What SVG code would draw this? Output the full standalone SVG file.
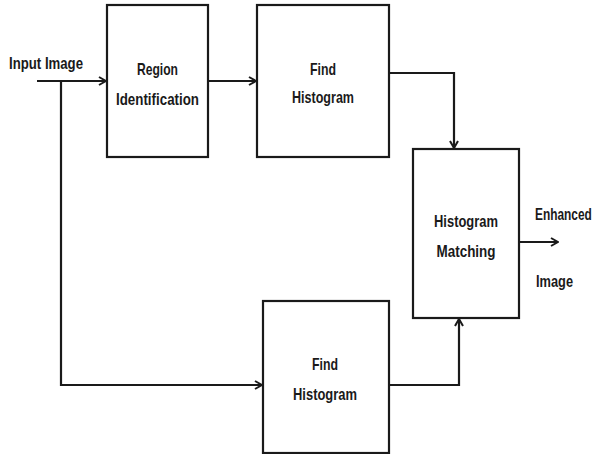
<svg xmlns="http://www.w3.org/2000/svg" width="595" height="454" viewBox="0 0 595 454">
<style>
.box{fill:#fff;stroke:#1a1a1a;stroke-width:2.2}
.ln{fill:none;stroke:#1a1a1a;stroke-width:2.2}
text{font-family:"Liberation Sans",Arial,sans-serif;font-weight:bold;font-size:17px;fill:#1a1a1a}
.c{text-anchor:middle}
</style>
<defs>
<marker id="ah" viewBox="0 0 10 10" refX="9" refY="5" markerWidth="10" markerHeight="10" markerUnits="userSpaceOnUse" orient="auto">
<polyline points="2,1 9,5 2,9" fill="none" stroke="#1a1a1a" stroke-width="2"/>
</marker>
</defs>
<rect width="595" height="454" fill="#fff"/>
<g id="connectors">
<line class="ln" x1="37" y1="81" x2="106" y2="81" marker-end="url(#ah)"/>
<polyline class="ln" points="61,81 61,385 262,385" marker-end="url(#ah)"/>
<line class="ln" x1="208" y1="81" x2="256" y2="81" marker-end="url(#ah)"/>
<polyline class="ln" points="389,73 454,73 454,148" marker-end="url(#ah)"/>
<polyline class="ln" points="389,385 459,385 459,319" marker-end="url(#ah)"/>
<line class="ln" x1="519" y1="242" x2="558" y2="242" marker-end="url(#ah)"/>
</g>
<g id="input-label"><text x="9" y="69" textLength="74" lengthAdjust="spacingAndGlyphs">Input Image</text></g>
<g id="region-identification">
<rect class="box" x="107" y="5" width="101" height="152"/>
<text class="c" x="157.5" y="75" textLength="41" lengthAdjust="spacingAndGlyphs">Region</text>
<text class="c" x="157.5" y="105" textLength="83" lengthAdjust="spacingAndGlyphs">Identification</text>
</g>
<g id="find-histogram-top">
<rect class="box" x="257" y="5" width="132" height="152"/>
<text class="c" x="323" y="75" textLength="26" lengthAdjust="spacingAndGlyphs">Find</text>
<text class="c" x="323" y="103" textLength="62" lengthAdjust="spacingAndGlyphs">Histogram</text>
</g>
<g id="histogram-matching">
<rect class="box" x="413" y="149" width="106" height="169"/>
<text class="c" x="466" y="227" textLength="64" lengthAdjust="spacingAndGlyphs">Histogram</text>
<text class="c" x="466" y="257" textLength="59" lengthAdjust="spacingAndGlyphs">Matching</text>
</g>
<g id="find-histogram-bottom">
<rect class="box" x="263" y="301" width="126" height="152"/>
<text class="c" x="325" y="370" textLength="26" lengthAdjust="spacingAndGlyphs">Find</text>
<text class="c" x="325" y="400" textLength="64" lengthAdjust="spacingAndGlyphs">Histogram</text>
</g>
<g id="output-label">
<text transform="translate(535,220) scale(0.7,1)">Enhanced</text>
<text x="536" y="287" textLength="37" lengthAdjust="spacingAndGlyphs">Image</text>
</g>
</svg>
